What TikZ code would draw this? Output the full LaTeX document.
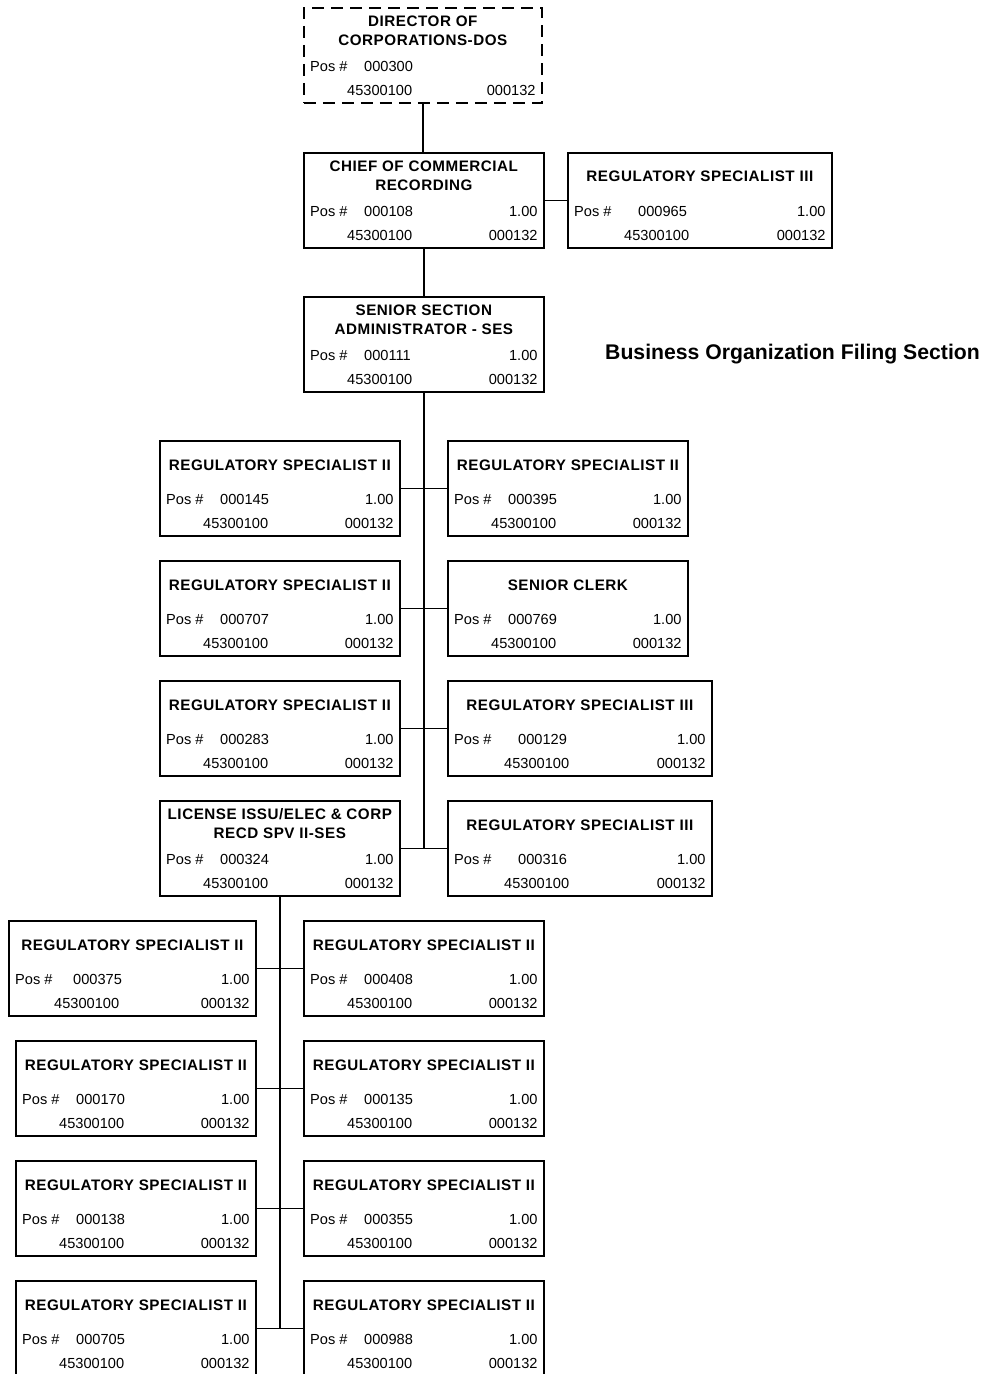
\documentclass[tikz,border=0pt]{standalone}
\usepackage{fontspec}
\setmainfont{Liberation Sans}
\newfontfamily\ttlfont[LetterSpace=3.5]{Liberation Sans}
\tikzset{
  orgrect/.style={draw, line width=1.7pt, rectangle, minimum height=95pt, inner sep=0pt},
  dashedrect/.style={dash pattern=on 12pt off 7pt},
  ttl/.style={font=\ttlfont\bfseries\fontsize{15.2}{19}\selectfont, align=center, inner sep=0pt},
  txt/.style={font=\fontsize{14.6}{17}\selectfont, inner sep=0pt},
  conn/.style={line width=1.7pt},
  heading/.style={font=\bfseries\fontsize{21.2}{25}\selectfont, inner sep=0pt},
}
\newcommand\ftetext{1.00}
\newcommand\acctoff{44}
\newcommand\ttloff{24}
% #1 style, #2 name, #3 left, #4 top, #5 width, #6 title, #7 number offset, #8 number
\newcommand\orgbox[8]{%
  \node[orgrect,#1,minimum width=#5pt,anchor=north west] (#2) at (#3,#4) {};
  \node[ttl] (#2-t) at ([yshift=-\ttloff pt]#2.north) {#6};
  \node[txt,anchor=base west] (#2-p) at ([xshift=7pt,yshift=-64pt]#2.north west) {Pos \#};
  \node[txt,anchor=base west] (#2-n) at ([xshift=#7pt,yshift=-64pt]#2.north west) {#8};
  \node[txt,anchor=base east] (#2-f) at ([xshift=-7pt,yshift=-64pt]#2.north east) {\ftetext};
  \node[txt,anchor=base west] (#2-a) at ([xshift=\acctoff pt,yshift=-88pt]#2.north west) {45300100};
  \node[txt,anchor=base east] (#2-c) at ([xshift=-7pt,yshift=-88pt]#2.north east) {000132};
}
\begin{document}
\begin{tikzpicture}[x=1pt,y=-1pt]
\useasboundingbox (0,0) rectangle (985,1374);
% top part
\renewcommand\ftetext{}
\renewcommand\ttloff{24}
\orgbox{dashedrect}{dir}{303}{7}{238}{DIRECTOR OF\\CORPORATIONS-DOS}{61}{000300}
\renewcommand\ftetext{1.00}
\orgbox{}{chief}{303}{152}{240}{CHIEF OF COMMERCIAL\\RECORDING}{61}{000108}
\orgbox{}{sen}{303}{296}{240}{SENIOR SECTION\\ADMINISTRATOR - SES}{61}{000111}
\renewcommand\ttloff{24.5}
\renewcommand\acctoff{57}
\orgbox{}{rs965}{567}{152}{264}{REGULATORY SPECIALIST III}{71}{000965}
\node[heading,anchor=west] (head) at (605,354) {Business Organization Filing Section};
% middle part
\renewcommand\ttloff{25.5}
\renewcommand\acctoff{44}
\orgbox{}{l1}{159}{440}{240}{REGULATORY SPECIALIST II}{61}{000145}
\orgbox{}{r1}{447}{440}{240}{REGULATORY SPECIALIST II}{61}{000395}
\orgbox{}{l2}{159}{560}{240}{REGULATORY SPECIALIST II}{61}{000707}
\orgbox{}{r2}{447}{560}{240}{SENIOR CLERK}{61}{000769}
\orgbox{}{l3}{159}{680}{240}{REGULATORY SPECIALIST II}{61}{000283}
\renewcommand\ttloff{24}
\orgbox{}{l4}{159}{800}{240}{LICENSE ISSU/ELEC \& CORP\\RECD SPV II-SES}{61}{000324}
\renewcommand\ttloff{25.5}
\renewcommand\acctoff{57}
\orgbox{}{r3}{447}{680}{264}{REGULATORY SPECIALIST III}{71}{000129}
\orgbox{}{r4}{447}{800}{264}{REGULATORY SPECIALIST III}{71}{000316}
% bottom part
\renewcommand\acctoff{46}
\orgbox{}{b1l}{8}{920}{247}{REGULATORY SPECIALIST II}{65}{000375}
\renewcommand\acctoff{44}
\orgbox{}{b1r}{303}{920}{240}{REGULATORY SPECIALIST II}{61}{000408}
\orgbox{}{b2l}{15}{1040}{240}{REGULATORY SPECIALIST II}{61}{000170}
\orgbox{}{b2r}{303}{1040}{240}{REGULATORY SPECIALIST II}{61}{000135}
\orgbox{}{b3l}{15}{1160}{240}{REGULATORY SPECIALIST II}{61}{000138}
\orgbox{}{b3r}{303}{1160}{240}{REGULATORY SPECIALIST II}{61}{000355}
\orgbox{}{b4l}{15}{1280}{240}{REGULATORY SPECIALIST II}{61}{000705}
\orgbox{}{b4r}{303}{1280}{240}{REGULATORY SPECIALIST II}{61}{000988}
% connectors
\draw[conn] (dir.south) -- (dir.south |- chief.north);
\draw[conn] (chief.east) -- (rs965.west);
\draw[conn] (chief.south) -- (sen.north);
\draw[conn] (sen.south) -- (sen.south |- l4.east);
\draw[conn] (l1.east) -- (r1.west);
\draw[conn] (l2.east) -- (r2.west);
\draw[conn] (l3.east) -- (r3.west);
\draw[conn] (l4.east) -- (r4.west);
\draw[conn] (l4.south) -- (l4.south |- b4l.east);
\draw[conn] (b1l.east) -- (b1r.west);
\draw[conn] (b2l.east) -- (b2r.west);
\draw[conn] (b3l.east) -- (b3r.west);
\draw[conn] (b4l.east) -- (b4r.west);
\end{tikzpicture}
\end{document}
